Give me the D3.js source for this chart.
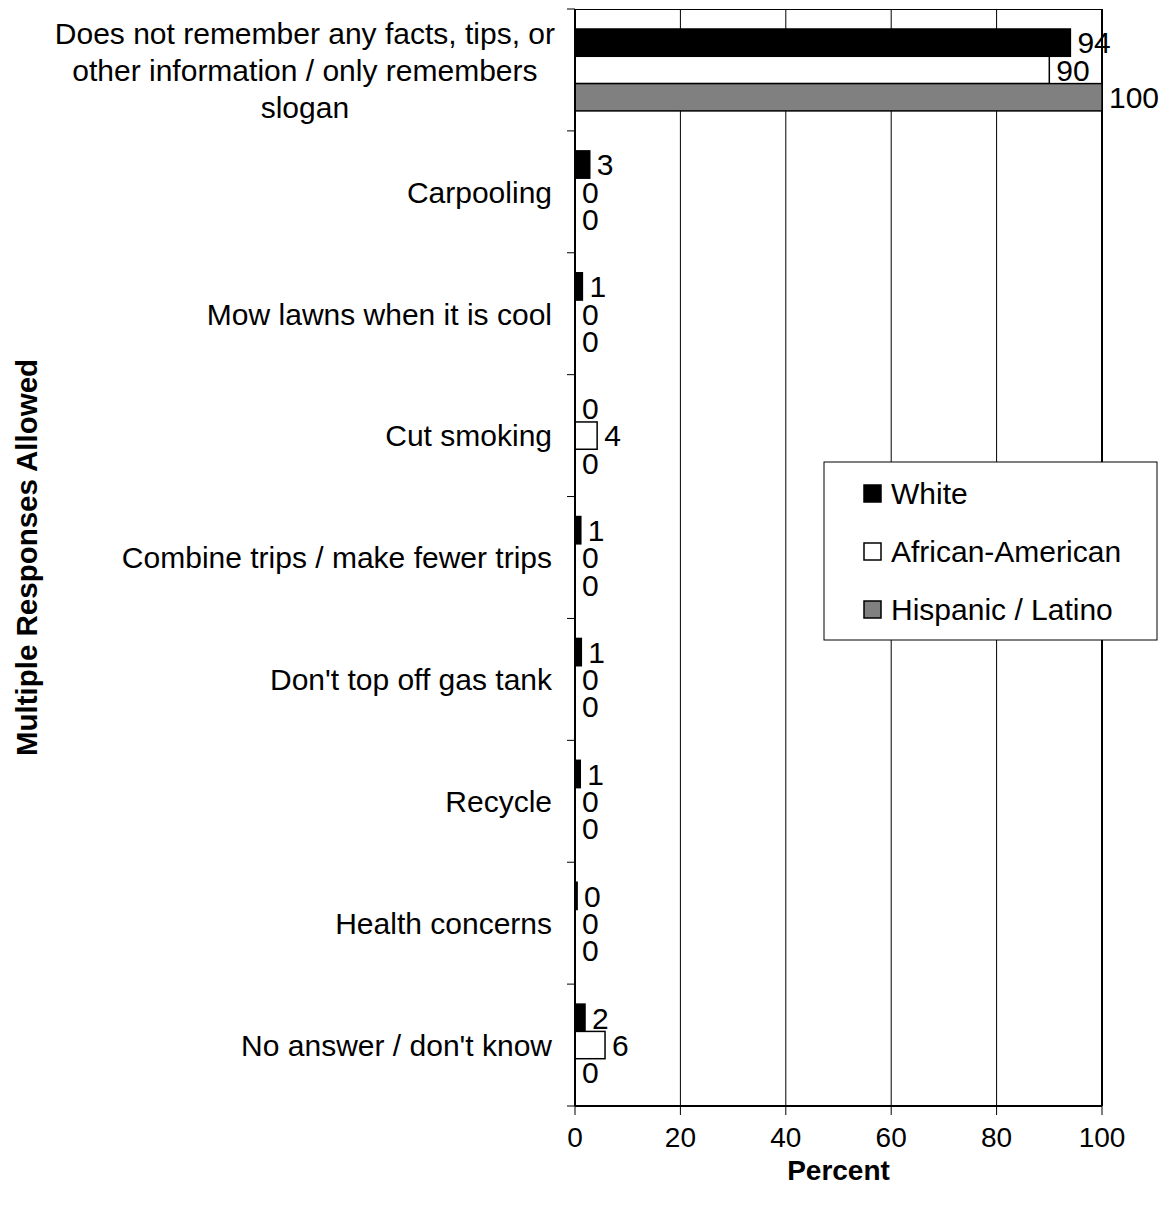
<!DOCTYPE html>
<html>
<head>
<meta charset="utf-8">
<script src="https://cdn.jsdelivr.net/npm/d3@7"></script>
<style>
  body { margin: 0; background: #fff; }
  text { font-family: "Liberation Sans", Arial, sans-serif; fill: #000; }
</style>
</head>
<body>
<div id="chart"></div>
<script>
// categories, top to bottom
var categories = [
    "Does not remember any facts, tips, or|other information / only remembers|slogan",
    "Carpooling",
    "Mow lawns when it is cool",
    "Cut smoking",
    "Combine trips / make fewer trips",
    "Don't top off gas tank",
    "Recycle",
    "Health concerns",
    "No answer / don't know"
];

var seriesNames = ["White", "African-American", "Hispanic / Latino"];

// percent values per series
var white = [94, 2.8, 1.4, 0, 1.1, 1.2, 1.0, 0.4, 1.9];
var african = [90, 0, 0, 4.2, 0, 0, 0, 0, 5.7];
var hispanic = [100, 0, 0, 0, 0, 0, 0, 0, 0];

var xTicks = [0, 20, 40, 60, 80, 100];

var colors = ["#000000", "#ffffff", "#808080"];

var width = 1167,
    height = 1215;

var plot = { left: 575, right: 1102, top: 9, bottom: 1106 };

var rows = categories.map(function (c, i) {
    return { cat: c, values: [white[i], african[i], hispanic[i]] };
});

var x = d3.scaleLinear()
    .domain([0, 100])
    .range([plot.left, plot.right]);

var y = d3.scaleBand()
    .domain(categories)
    .range([plot.top, plot.bottom])
    .paddingInner(0.328)
    .paddingOuter(0.164);

var ySub = d3.scaleBand()
    .domain(seriesNames)
    .range([0, y.bandwidth()]);

var color = d3.scaleOrdinal(seriesNames, colors);

var svg = d3.select("#chart")
    .append("svg")
    .attr("width", width)
    .attr("height", height);

// gridlines
svg.append("g")
    .selectAll("line")
    .data(xTicks.slice(1, -1))
    .enter().append("line")
    .attr("x1", function (d) { return x(d); })
    .attr("x2", function (d) { return x(d); })
    .attr("y1", plot.top)
    .attr("y2", plot.bottom)
    .attr("stroke", "#000")
    .attr("stroke-width", 1);

// plot frame (top + right)
svg.append("line")
    .attr("x1", plot.left).attr("x2", plot.right)
    .attr("y1", plot.top + 0.5).attr("y2", plot.top + 0.5)
    .attr("stroke", "#000").attr("stroke-width", 1);
svg.append("line")
    .attr("x1", plot.right).attr("x2", plot.right)
    .attr("y1", plot.top).attr("y2", plot.bottom)
    .attr("stroke", "#000").attr("stroke-width", 2);

// bars
var groups = svg.append("g")
    .selectAll("g")
    .data(rows)
    .enter().append("g")
    .attr("transform", function (d) { return "translate(0," + y(d.cat) + ")"; });

var cells = groups.selectAll("g")
    .data(function (d) {
        return d.values.map(function (v, i) { return { key: seriesNames[i], value: v }; });
    })
    .enter().append("g");

cells.append("rect")
    .attr("x", x(0))
    .attr("y", function (d) { return ySub(d.key); })
    .attr("width", function (d) { return x(d.value) - x(0); })
    .attr("height", ySub.bandwidth())
    .attr("fill", function (d) { return color(d.key); })
    .attr("stroke", "#000")
    .attr("stroke-width", 1.5);

cells.append("text")
    .attr("x", function (d) { return x(d.value) + 7; })
    .attr("y", function (d) { return ySub(d.key) + ySub.bandwidth() / 2; })
    .attr("dy", "0.36em")
    .style("font-size", "30px")
    .text(function (d) { return Math.round(d.value); });

// y axis
var yAxis = svg.append("g")
    .attr("transform", "translate(" + plot.left + ",0)");

yAxis.append("line")
    .attr("x1", 0).attr("x2", 0)
    .attr("y1", plot.top).attr("y2", plot.bottom)
    .attr("stroke", "#000").attr("stroke-width", 2);

var yTickPos = categories.map(function (c) { return y(c) - y.step() * y.paddingInner() / 2; });
yTickPos.push(plot.bottom);

yAxis.selectAll(".ytick")
    .data(yTickPos)
    .enter().append("line")
    .attr("class", "ytick")
    .attr("x1", -8).attr("x2", 0)
    .attr("y1", function (d) { return d; })
    .attr("y2", function (d) { return d; })
    .attr("stroke", "#000").attr("stroke-width", 1);

// category labels
var labels = svg.append("g")
    .selectAll("text")
    .data(categories)
    .enter().append("text")
    .style("font-size", "30px")
    .attr("y", function (d) { return y(d) + y.bandwidth() / 2; });

labels.each(function (d) {
    var t = d3.select(this);
    var lines = d.split("|");
    if (lines.length === 1) {
        t.attr("x", 552).attr("text-anchor", "end").attr("dy", "0.36em").text(d);
        return;
    }
    var spans = lines.map(function (l, i) {
        return t.append("tspan")
            .attr("dy", i === 0 ? ((-(lines.length - 1) / 2) * 37 + 11) + "px" : "37px")
            .text(l);
    });
    var maxW = d3.max(spans, function (s) { return s.node().getComputedTextLength(); });
    var cx = 555 - maxW / 2;
    t.attr("text-anchor", "middle");
    spans.forEach(function (s) { s.attr("x", cx); });
});

// x axis
var xAxis = svg.append("g")
    .attr("transform", "translate(0," + plot.bottom + ")");

xAxis.append("line")
    .attr("x1", plot.left).attr("x2", plot.right)
    .attr("y1", 0).attr("y2", 0)
    .attr("stroke", "#000").attr("stroke-width", 2);

xAxis.selectAll(".xtick")
    .data(xTicks)
    .enter().append("line")
    .attr("x1", function (d) { return x(d); })
    .attr("x2", function (d) { return x(d); })
    .attr("y1", 0).attr("y2", 9)
    .attr("stroke", "#000").attr("stroke-width", 1);

xAxis.selectAll(".xlabel")
    .data(xTicks)
    .enter().append("text")
    .attr("x", function (d) { return x(d); })
    .attr("y", 41)
    .attr("text-anchor", "middle")
    .style("font-size", "28px")
    .text(function (d) { return d; });

// axis titles
svg.append("text")
    .attr("x", (plot.left + plot.right) / 2)
    .attr("y", 1180)
    .attr("text-anchor", "middle")
    .style("font-size", "28px")
    .style("font-weight", "bold")
    .text("Percent");

svg.append("text")
    .attr("transform", "translate(37," + (plot.top + plot.bottom) / 2 + ") rotate(-90)")
    .attr("text-anchor", "middle")
    .style("font-size", "29.5px")
    .style("font-weight", "bold")
    .text("Multiple Responses Allowed");

// legend
var legend = svg.append("g")
    .attr("transform", "translate(824,462)");

legend.append("rect")
    .attr("width", 333)
    .attr("height", 178)
    .attr("fill", "#fff")
    .attr("stroke", "#000")
    .attr("stroke-width", 1);

var item = legend.selectAll(".item")
    .data(seriesNames)
    .enter().append("g")
    .attr("transform", function (d, i) { return "translate(40," + (31 + i * 58) + ")"; });

item.append("rect")
    .attr("x", 0)
    .attr("y", -8)
    .attr("width", 17)
    .attr("height", 17)
    .attr("fill", function (d) { return color(d); })
    .attr("stroke", "#000")
    .attr("stroke-width", 1.5);

item.append("text")
    .attr("x", 27)
    .attr("dy", "0.36em")
    .style("font-size", "30px")
    .text(function (d) { return d; });
</script>
</body>
</html>
